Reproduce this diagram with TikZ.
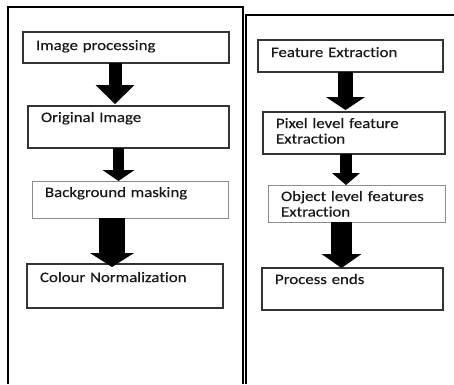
\documentclass[tikz,border=0pt]{standalone}
\usepackage{fontspec}
\setmainfont[FakeStretch=1.17,FakeBold=0.4,Ligatures=NoCommon]{Carlito}
\usetikzlibrary{arrows.meta}

\tikzset{
 stage/.style={draw=black!80,line width=1.2pt,anchor=north west,align=left,
  inner xsep=13pt,inner ysep=0pt,outer sep=0pt,text=black!90,
  font=\fontsize{14.4}{15.5}\selectfont},
 faint/.style={draw=black!45,line width=1pt},
 panel/.style={line width=1.7pt},
 flow/.style n args={3}{line width=#1,-{Triangle[width=#2,length=#3,line width=0pt]}}
}

\begin{document}
\begin{tikzpicture}[x=1pt,y=-1pt]
 \useasboundingbox (0,0) rectangle (454,384);
 \draw[panel] (8,384)--(8,7)--(243,7)--(243,384);
 \draw[panel] (246,384)--(246,15)--(454,15);

 \node[stage,text width=180pt,text height=18pt,text depth=13pt] (imgproc) at (23,32) {Image processing};
 \node[stage,text width=175pt,text height=16pt,text depth=26pt] (orig) at (28,106) {Original Image};
 \node[stage,faint,text width=170pt,text height=16pt,text depth=21pt] (mask) at (32,181) {Background masking};
 \node[stage,text width=170pt,text height=18pt,text depth=26pt] (norm) at (27,264) {Colour Normalization};

 \node[stage,text width=159pt,text height=17pt,text depth=15pt] (feat) at (258,40) {Feature Extraction};
 \node[stage,text width=156pt,text height=16pt,text depth=26pt] (pixel) at (263,112) {Pixel level feature\\Extraction};
 \node[stage,faint,text width=151pt,text height=16pt,text depth=21pt] (object) at (268,185) {Object level features\\Extraction};
 \node[stage,text width=155pt,text height=16pt,text depth=26pt] (ends) at (262,268) {Process ends};

 \draw[flow={13pt}{39pt}{19pt}] ([xshift=-11pt]imgproc.south) -- ([xshift=-13.5pt,yshift=2pt]orig.north);
 \draw[flow={11pt}{32pt}{11pt}] ([xshift=-10pt]orig.south) -- ([xshift=-11.5pt]mask.north);
 \draw[flow={26pt}{44pt}{14pt}] ([xshift=-18pt]mask.south) -- ([xshift=-13pt,yshift=-3pt]norm.north);

 \draw[flow={15pt}{39pt}{13pt}] ([xshift=-5pt]feat.south) -- ([xshift=-8.5pt,yshift=2pt]pixel.north);
 \draw[flow={12pt}{28pt}{12pt}] ([xshift=-8pt]pixel.south) -- ([xshift=-10.5pt]object.north);
 \draw[flow={21pt}{40pt}{14pt}] ([xshift=-15pt]object.south) -- ([xshift=-11pt]ends.north);
\end{tikzpicture}
\end{document}
